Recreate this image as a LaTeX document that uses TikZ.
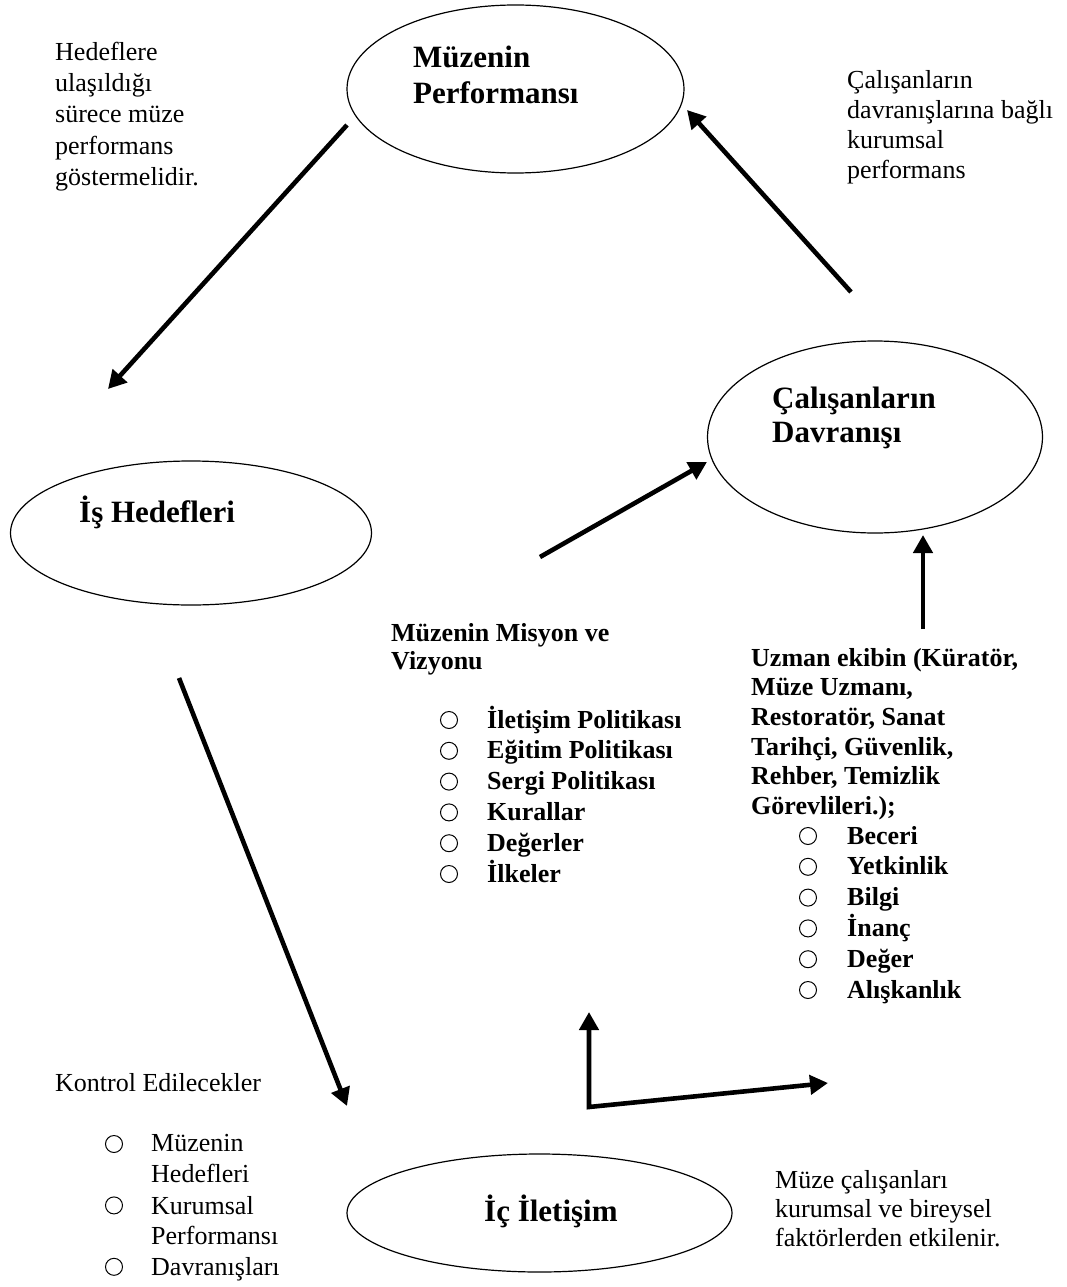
\documentclass[tikz,border=0pt]{standalone}
\usepackage{fontspec}
\setmainfont{Liberation Serif}
\usetikzlibrary{shapes.geometric,arrows.meta}

\begin{document}
\begin{tikzpicture}[x=1pt,y=-1pt,
    oval/.style={ellipse, draw, line width=1.2pt, inner sep=0pt},
    txt/.style={anchor=north west, inner sep=0pt, align=left, font=\fontsize{26}{30.5}\selectfont},
    btxt/.style={txt, font=\fontsize{26}{30.5}\selectfont\bfseries},
    ttl/.style={txt, font=\fontsize{31}{36}\selectfont\bfseries},
    arr/.style={->, >={Triangle[length=18pt,width=19pt]}, line width=4.6pt}]

      \fill[white] (0,0) rectangle (1066,1287);
      \useasboundingbox (0,0) rectangle (1066,1287);

      \node[oval, minimum width=337pt, minimum height=168pt] (perf) at (515.5,89) {};
      \node[oval, minimum width=361pt, minimum height=144pt] (hedef) at (191,533) {};
      \node[oval, minimum width=335pt, minimum height=192pt] (davr) at (875,437) {};
      \node[oval, minimum width=385pt, minimum height=118pt] (ilet) at (539.5,1213) {};

      \node[ttl] (perfT) at (413,46) {Müzenin\\Performansı};
      \node[ttl, anchor=base west] (hedefT) at (79,522) {İş Hedefleri};
      \node[ttl, font=\fontsize{31}{34}\selectfont\bfseries] (davrT) at (772,387) {Çalışanların\\Davranışı};
      \node[ttl, anchor=base west] (iletT) at (484,1221) {İç İletişim};

      \node[txt, font=\fontsize{26}{31.2}\selectfont] (notA) at (55,42) {Hedeflere\\ulaşıldığı\\sürece müze\\performans\\göstermelidir.};
      \node[txt, font=\fontsize{26}{30}\selectfont] (notB) at (847,70) {Çalışanların\\davranışlarına bağlı\\kurumsal\\performans};
      \node[txt, font=\fontsize{26}{29}\selectfont] (notC) at (775,1170) {Müze çalışanları\\kurumsal ve bireysel\\faktörlerden etkilenir.};

      \node[btxt, font=\fontsize{26}{28.5}\selectfont\bfseries] (misyon) at (391,623) {Müzenin Misyon ve\\Vizyonu};
      \foreach \t [count=\i from 0] in {İletişim Politikası, Eğitim Politikası, Sergi Politikası, Kurallar, Değerler, İlkeler}{
        \draw[line width=1pt] (449,{720+30.8*\i}) circle [radius=8.5pt];
        \node[btxt, anchor=base west] (mis\i) at (487,{728+30.8*\i}) {\t};
      }

      \node[btxt, font=\fontsize{26}{29.6}\selectfont\bfseries] (uzman) at (751,648) {Uzman ekibin (Küratör,\\Müze Uzmanı,\\Restoratör, Sanat\\Tarihçi, Güvenlik,\\Rehber, Temizlik\\Görevlileri.);};
      \foreach \t [count=\i from 0] in {Beceri, Yetkinlik, Bilgi, İnanç, Değer, Alışkanlık}{
        \draw[line width=1pt] (808,{836+30.8*\i}) circle [radius=8.5pt];
        \node[btxt, anchor=base west] (uz\i) at (847,{844+30.8*\i}) {\t};
      }

      \node[txt, anchor=base west] (kontrol) at (55,1091) {Kontrol Edilecekler};
      \foreach \t/\r in {{Müzenin\\Hedefleri}/0, {Kurumsal\\Performansı}/2, {Davranışları}/4}{
        \draw[line width=1pt] (114,{1144+30.7*\r}) circle [radius=8.5pt];
        \node[txt] (kon\r) at (151,{1134.5+30.7*\r}) {\t};
      }

      \coordinate (perfOut) at (347,125);
      \coordinate (hedefIn) at (108,389);
      \coordinate (davrOut) at (851,292);
      \coordinate (perfIn) at (687,110);
      \coordinate (misOut) at (540,557);
      \coordinate (davrIn) at (707,462);
      \coordinate (uzOut) at (923,629);
      \coordinate (davrBot) at (923,535);
      \coordinate (hedefOut) at (179,678);
      \coordinate (iletIn) at (347,1106);
      \coordinate (lUp) at (589,1012);
      \coordinate (lCorner) at (589,1107);
      \coordinate (lRight) at (828,1083);

      \draw[arr] (perfOut) -- (hedefIn);
      \draw[arr] (davrOut) -- (perfIn);
      \draw[arr] (misOut) -- (davrIn);
      \draw[arr] (uzOut) -- (davrBot);
      \draw[arr] (hedefOut) -- (iletIn);
      \draw[arr, <->, line join=miter] (lUp) -- (lCorner) -- (lRight);

\end{tikzpicture}
\end{document}
